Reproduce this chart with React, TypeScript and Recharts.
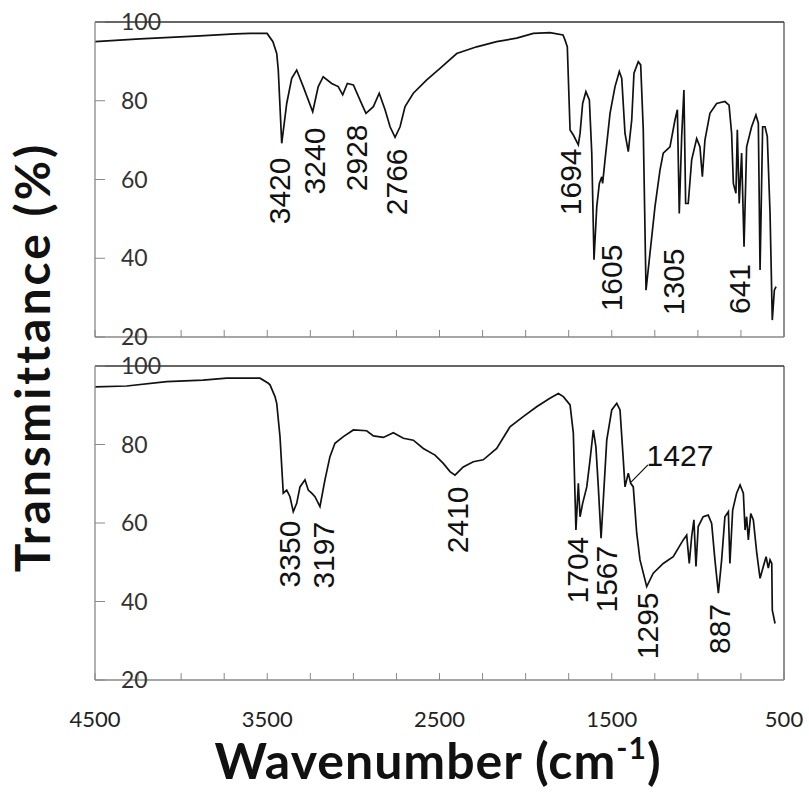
import React from 'react';
import { LineChart, Line, XAxis, YAxis, ReferenceLine, ReferenceDot } from 'recharts';

// ---------- data ----------
const topWavenumber = [
  4500, 4239, 3890, 3687, 3600, 3501, 3467, 3445, 3436, 3416, 3387, 3358, 3329, 3291, 3236, 3204,
  3175, 3126, 3088, 3062, 3035, 3000, 2962, 2927, 2884, 2850, 2816, 2787, 2758, 2729, 2700, 2652,
  2574, 2497, 2400, 2284, 2168, 2052, 1955, 1859, 1783, 1771, 1758, 1742, 1723, 1694, 1684, 1669,
  1650, 1630, 1616, 1603, 1587, 1572, 1558, 1553, 1539, 1510, 1481, 1456, 1442, 1423, 1404, 1384,
  1371, 1346, 1332, 1317, 1301, 1278, 1249, 1220, 1201, 1162, 1133, 1119, 1108, 1094, 1081, 1071,
  1056, 1036, 1007, 988, 974, 959, 930, 891, 843, 819, 804, 794, 779, 771, 760, 746,
  732, 717, 688, 663, 649, 639, 624, 610, 597, 581, 568, 556, 546,
];
const topTransmittance = [
  95.0, 95.7, 96.5, 97.0, 97.1, 97.1, 95.0, 92.0, 87.8, 69.2, 79.3, 85.7, 87.8, 83.6, 77.2, 83.6,
  86.1, 84.4, 83.6, 81.5, 84.4, 84.0, 80.2, 76.8, 78.5, 81.9, 77.7, 73.4, 70.7, 73.4, 78.5, 81.9,
  85.3, 88.2, 92.0, 93.7, 95.0, 95.9, 97.1, 97.3, 96.7, 95.4, 93.7, 72.6, 71.3, 68.8, 71.7, 79.3,
  82.3, 80.2, 66.7, 39.6, 53.1, 59.0, 60.7, 59.0, 65.0, 76.8, 83.6, 87.4, 85.7, 71.7, 67.1, 75.1,
  87.0, 89.9, 89.1, 72.6, 31.9, 41.3, 53.1, 62.4, 66.7, 68.3, 75.1, 77.7, 51.4, 70.9, 82.7, 53.9,
  53.9, 65.0, 70.4, 68.3, 60.7, 70.0, 76.8, 79.3, 79.8, 78.9, 71.7, 59.0, 56.5, 72.6, 53.9, 66.7,
  42.9, 68.3, 73.4, 76.4, 74.3, 37.0, 73.4, 73.4, 70.9, 51.4, 24.3, 31.9, 32.8,
];

const bottomWavenumber = [
  4500, 4316, 4084, 3873, 3735, 3542, 3494, 3484, 3455, 3445, 3426, 3407, 3387, 3368, 3349, 3329,
  3310, 3281, 3262, 3242, 3223, 3194, 3165, 3136, 3107, 3058, 3000, 2923, 2884, 2826, 2768, 2710,
  2652, 2594, 2526, 2478, 2439, 2410, 2362, 2304, 2246, 2168, 2091, 2014, 1936, 1859, 1810, 1781,
  1742, 1723, 1708, 1694, 1684, 1669, 1645, 1626, 1607, 1592, 1578, 1562, 1549, 1529, 1500, 1471,
  1452, 1433, 1423, 1404, 1390, 1375, 1355, 1336, 1297, 1259, 1201, 1143, 1085, 1065, 1050, 1036,
  1023, 1011, 998, 969, 940, 920, 901, 881, 862, 843, 823, 814, 798, 775, 755, 736,
  726, 717, 707, 693, 678, 658, 639, 620, 604, 591, 581, 571, 568, 552,
];
const bottomTransmittance = [
  94.7, 94.9, 96.0, 96.4, 96.9, 96.9, 95.6, 95.2, 92.2, 90.5, 82.0, 67.6, 68.4, 66.7, 62.9, 65.0,
  69.2, 71.0, 68.4, 67.6, 66.7, 64.2, 71.0, 76.9, 80.3, 82.0, 83.7, 83.5, 82.2, 81.8, 83.0, 81.6,
  81.1, 79.0, 77.3, 75.2, 73.1, 72.2, 74.3, 75.6, 76.1, 79.0, 84.5, 87.1, 89.6, 91.8, 93.0, 92.2,
  90.1, 82.9, 58.2, 70.1, 61.6, 65.0, 69.2, 76.1, 83.7, 79.4, 69.2, 56.1, 65.9, 81.1, 88.8, 90.5,
  88.8, 76.1, 69.2, 72.7, 70.1, 69.2, 57.4, 50.6, 43.8, 47.2, 49.7, 51.4, 55.7, 56.9, 49.7, 56.5,
  60.8, 48.9, 59.1, 61.6, 62.0, 59.9, 50.6, 42.1, 50.6, 61.6, 62.9, 49.7, 63.3, 67.6, 69.7, 67.6,
  58.2, 61.6, 55.7, 62.4, 60.8, 52.3, 45.9, 48.9, 51.4, 48.5, 50.6, 49.7, 37.8, 34.4,
];

const xTicks = [4500, 4250, 4000, 3750, 3500, 3250, 3000, 2750, 2500, 2250, 2000, 1750, 1500, 1250, 1000, 750, 500];
const xTickLabels = [4500, 3500, 2500, 1500, 500];
const yTicks = [20, 40, 60, 80, 100];

// peak annotations: label text, anchor wavenumber, anchor transmittance
const topPeakLabels = ['3420', '3240', '2928', '2766', '1694', '1605', '1305', '641'];
const topPeakWn = [3426, 3223, 2979, 2747, 1742, 1499, 1144, 756];
const topPeakT = [57.1, 64.7, 65.5, 59.4, 59.4, 35.0, 34.0, 32.2];

const bottomPeakLabels = ['3350', '3197', '2410', '1704', '1567', '1295', '887'];
const bottomPeakWn = [3368, 3171, 2398, 1696, 1533, 1290, 872];
const bottomPeakT = [52.1, 51.8, 60.8, 48.0, 45.7, 33.8, 33.0];

const sidePeakLabel = '1427';
const sidePeakWn = 1104;
const sidePeakT = 77.3;
const sideLeaderWn = [1388, 1290];
const sideLeaderT = [70.4, 74.8];

const topData = topWavenumber.map((w, i) => ({ wn: w, t: topTransmittance[i] }));
const bottomData = bottomWavenumber.map((w, i) => ({ wn: w, t: bottomTransmittance[i] }));

const PEAK_FONT = '"Liberation Sans", Arial, sans-serif';
const TICK_FONT = 'Lato, "Open Sans", sans-serif';

const makeRotated = (label: string) => (props: any) => {
  const { cx, cy } = props;
  return (
    <text
      x={cx}
      y={cy}
      transform={`rotate(-90 ${cx} ${cy})`}
      textAnchor="middle"
      dominantBaseline="central"
      fontFamily={PEAK_FONT}
      fontSize={30}
      fill="#111"
    >
      {label}
    </text>
  );
};

const makeHorizontal = (label: string) => (props: any) => {
  const { cx, cy } = props;
  return (
    <text x={cx} y={cy} textAnchor="middle" dominantBaseline="central" fontFamily={PEAK_FONT} fontSize={30} fill="#111">
      {label}
    </text>
  );
};

const XTick = (showLabels: boolean) => (props: any) => {
  const { x, y, payload } = props;
  const v = payload.value;
  if (!showLabels || xTickLabels.indexOf(v) < 0) return <g />;
  return (
    <text x={x} y={y} textAnchor="middle" dominantBaseline="hanging" fontFamily={TICK_FONT} fontSize={22} fill="#222">
      {String(v)}
    </text>
  );
};

interface PanelProps {
  data: { wn: number; t: number }[];
  top: number;
  height: number;
  marginTop: number;
  xAxisHeight: number;
  showXLabels: boolean;
  peakLabels: string[];
  peakWn: number[];
  peakT: number[];
  extra?: boolean;
}

function Panel(p: PanelProps) {
  return (
    <div style={{ position: 'absolute', left: 0, top: p.top }}>
      <LineChart width={809} height={p.height} data={p.data} margin={{ top: p.marginTop, right: 25, bottom: 0, left: 95 }}>
        <XAxis
          dataKey="wn"
          type="number"
          domain={[500, 4500]}
          reversed
          allowDataOverflow
          ticks={xTicks}
          interval={0}
          height={p.xAxisHeight}
          tickSize={-7}
          tickMargin={36}
          tick={XTick(p.showXLabels)}
          tickLine={{ stroke: '#888' }}
          axisLine={{ stroke: '#888', strokeWidth: 1.3 }}
        />
        <YAxis
          type="number"
          domain={[20, 100]}
          allowDataOverflow
          ticks={yTicks}
          interval={0}
          mirror
          width={60}
          tickSize={10}
          tickMargin={16}
          tick={{ fontFamily: TICK_FONT, fontSize: 23, fill: '#333' }}
          tickLine={{ stroke: '#888' }}
          axisLine={{ stroke: '#888', strokeWidth: 1.3 }}
        />
        <ReferenceLine y={100} stroke="#333" strokeWidth={1.6} />
        <ReferenceLine x={500} stroke="#555" strokeWidth={1.3} />
        <Line
          type="linear"
          dataKey="t"
          stroke="#111"
          strokeWidth={1.7}
          dot={false}
          isAnimationActive={false}
        />
        {p.peakLabels.map((lab, i) => (
          <ReferenceDot key={lab} x={p.peakWn[i]} y={p.peakT[i]} r={0} shape={makeRotated(lab)} />
        ))}
        {p.extra && (
          <ReferenceLine
            segment={[
              { x: sideLeaderWn[0], y: sideLeaderT[0] },
              { x: sideLeaderWn[1], y: sideLeaderT[1] },
            ]}
            stroke="#111"
            strokeWidth={1.2}
          />
        )}
        {p.extra && <ReferenceDot x={sidePeakWn} y={sidePeakT} r={0} shape={makeHorizontal(sidePeakLabel)} />}
      </LineChart>
    </div>
  );
}

export default function App() {
  return (
    <div style={{ position: 'absolute', left: 0, top: 0, width: 809, height: 797, background: '#fff' }}>
      <Panel
        data={topData}
        top={0}
        height={350}
        marginTop={22}
        xAxisHeight={13}
        showXLabels={false}
        peakLabels={topPeakLabels}
        peakWn={topPeakWn}
        peakT={topPeakT}
      />
      <Panel
        data={bottomData}
        top={350}
        height={447}
        marginTop={16}
        xAxisHeight={117}
        showXLabels={true}
        peakLabels={bottomPeakLabels}
        peakWn={bottomPeakWn}
        peakT={bottomPeakT}
        extra
      />
      <svg width={809} height={797} style={{ position: 'absolute', left: 0, top: 0, pointerEvents: 'none' }}>
        <text
          x={50}
          y={357}
          transform="rotate(-90 50 357)"
          textAnchor="middle"
          fontFamily="Lato, 'Open Sans', sans-serif"
          fontWeight={700}
          fontSize={48}
          letterSpacing={3}
          fill="#111"
        >
          Transmittance (%)
        </text>
        <text
          x={438}
          y={779}
          textAnchor="middle"
          fontFamily="Lato, 'Open Sans', sans-serif"
          fontWeight={700}
          fontSize={50}
          letterSpacing={1}
          fill="#111"
        >
          Wavenumber (cm
          <tspan fontSize={30} dy={-20}>-1</tspan>
          <tspan dy={20}>)</tspan>
        </text>
      </svg>
    </div>
  );
}
